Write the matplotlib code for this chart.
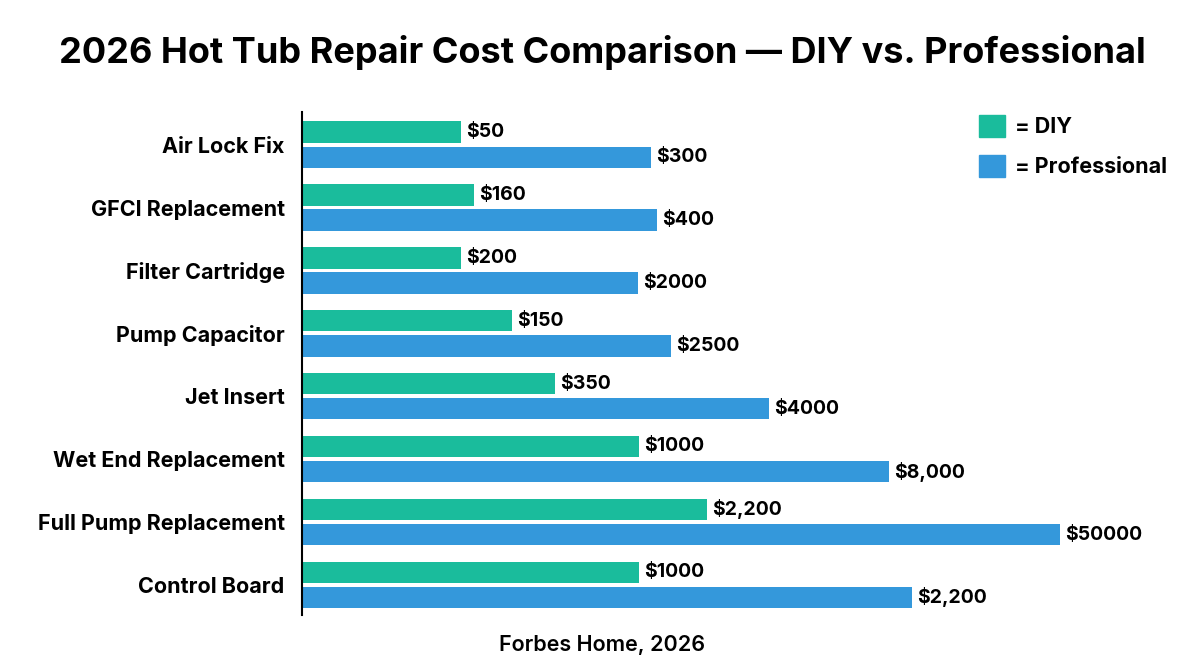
import numpy as np
import matplotlib
matplotlib.use("Agg")
import matplotlib.pyplot as plt
from matplotlib.patches import Patch

plt.rcParams['font.family'] = ['Inter', 'DejaVu Sans']

# data
categories = ['Air Lock Fix', 'GFCI Replacement', 'Filter Cartridge', 'Pump Capacitor',
              'Jet Insert', 'Wet End Replacement', 'Full Pump Replacement', 'Control Board']
# bar lengths as drawn (the source chart is not to scale with its labels)
diy_len = [159, 172, 159, 210, 253, 337, 405, 337]
pro_len = [349, 355, 336, 369, 467, 587, 758, 610]
diy_labels = ['$50', '$160', '$200', '$150', '$350', '$1000', '$2,200', '$1000']
pro_labels = ['$300', '$400', '$2000', '$2500', '$4000', '$8,000', '$50000', '$2,200']

diy_color = '#1abc9c'
pro_color = '#3498db'

fig = plt.figure(figsize=(12.04, 6.72), dpi=100)
ax = fig.add_axes([302 / 1204, 1 - 615 / 672, 1 - 302 / 1204, (615 - 112) / 672])

y = np.arange(len(categories))
off, h = 0.2, 0.34
ax.barh(y - off, diy_len, height=h, color=diy_color)
ax.barh(y + off, pro_len, height=h, color=pro_color)

for yi, v, lab in zip(y, diy_len, diy_labels):
    ax.text(v + 5, yi - off, lab, va='center', ha='left', fontsize=14, fontweight='bold')
for yi, v, lab in zip(y, pro_len, pro_labels):
    ax.text(v + 5, yi + off, lab, va='center', ha='left', fontsize=14, fontweight='bold')

ax.set_xlim(0, 902)
ax.set_ylim(7.48, -0.52)
ax.set_yticks(y)
ax.set_yticklabels(categories, fontsize=15.5, fontweight='bold')
ax.tick_params(axis='y', length=0, pad=12.5)
ax.set_xticks([])
for s in ['top', 'right', 'bottom']:
    ax.spines[s].set_visible(False)
ax.spines['left'].set_linewidth(1.5)

handles = [Patch(color=diy_color, label='= DIY'), Patch(color=pro_color, label='= Professional')]
fig.legend(handles=handles, loc='upper left', bbox_to_anchor=(979 / 1204, 1 - 115 / 672),
           frameon=False, prop={'weight': 'bold', 'size': 15.5},
           borderpad=0, borderaxespad=0,
           handlelength=1.22, handleheight=1.22, handletextpad=0.45, labelspacing=0.8)

fig.text(0.5, 1 - 53 / 672, '2026 Hot Tub Repair Cost Comparison \u2014 DIY vs. Professional',
         ha='center', va='center', fontsize=26, fontweight='bold')
fig.text(0.5, 1 - 645 / 672, 'Forbes Home, 2026', ha='center', va='center',
         fontsize=15.5, fontweight='semibold')

fig.savefig('out.png', dpi=100, facecolor='white')
